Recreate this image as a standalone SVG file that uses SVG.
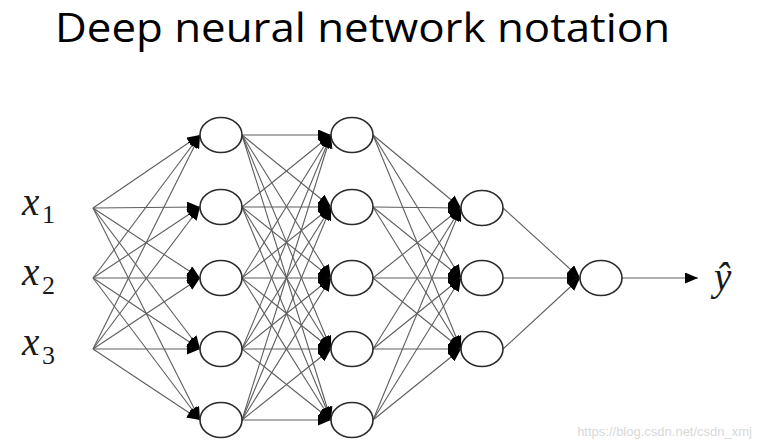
<svg xmlns="http://www.w3.org/2000/svg" width="760" height="448" viewBox="0 0 760 448">
<style>
.c{stroke:#5e5e5e;stroke-width:1.1;fill:none;marker-end:url(#ah)}
.n{fill:#fff;stroke:#2a2a2a;stroke-width:1.6}
.t{font-family:"Open Sans","Liberation Sans",sans-serif;font-size:40px;fill:#000}
.v{font-family:"Liberation Serif","DejaVu Serif",serif;font-style:italic;font-size:39px;fill:#1a1a1a}
.s{font-family:"Liberation Serif","DejaVu Serif",serif;font-size:26px;fill:#1a1a1a}
.w{font-family:"Liberation Sans",Arial,sans-serif;font-size:13px;fill:#d8d8d8}
</style>
<defs>
<marker id="ah" markerUnits="userSpaceOnUse" markerWidth="13" markerHeight="11" refX="13" refY="5.5" orient="auto" viewBox="0 0 13 11">
<path d="M0,0 L13,5.5 L0,11 z" fill="#000"/>
</marker>
</defs>
<rect width="760" height="448" fill="#fff"/>
<text class="t" x="55" y="42" textLength="615" lengthAdjust="spacingAndGlyphs">Deep neural network notation</text>
<g id="connectors">
<line class="c" x1="93" y1="208" x2="200" y2="135"/>
<line class="c" x1="93" y1="208" x2="200" y2="207"/>
<line class="c" x1="93" y1="208" x2="200" y2="278"/>
<line class="c" x1="93" y1="208" x2="200" y2="349"/>
<line class="c" x1="93" y1="208" x2="200" y2="420"/>
<line class="c" x1="93" y1="278" x2="200" y2="135"/>
<line class="c" x1="93" y1="278" x2="200" y2="207"/>
<line class="c" x1="93" y1="278" x2="200" y2="278"/>
<line class="c" x1="93" y1="278" x2="200" y2="349"/>
<line class="c" x1="93" y1="278" x2="200" y2="420"/>
<line class="c" x1="93" y1="349" x2="200" y2="135"/>
<line class="c" x1="93" y1="349" x2="200" y2="207"/>
<line class="c" x1="93" y1="349" x2="200" y2="278"/>
<line class="c" x1="93" y1="349" x2="200" y2="349"/>
<line class="c" x1="93" y1="349" x2="200" y2="420"/>
<line class="c" x1="242" y1="135" x2="331" y2="135"/>
<line class="c" x1="242" y1="135" x2="331" y2="207"/>
<line class="c" x1="242" y1="135" x2="331" y2="278"/>
<line class="c" x1="242" y1="135" x2="331" y2="349"/>
<line class="c" x1="242" y1="135" x2="331" y2="420"/>
<line class="c" x1="242" y1="207" x2="331" y2="135"/>
<line class="c" x1="242" y1="207" x2="331" y2="207"/>
<line class="c" x1="242" y1="207" x2="331" y2="278"/>
<line class="c" x1="242" y1="207" x2="331" y2="349"/>
<line class="c" x1="242" y1="207" x2="331" y2="420"/>
<line class="c" x1="242" y1="278" x2="331" y2="135"/>
<line class="c" x1="242" y1="278" x2="331" y2="207"/>
<line class="c" x1="242" y1="278" x2="331" y2="278"/>
<line class="c" x1="242" y1="278" x2="331" y2="349"/>
<line class="c" x1="242" y1="278" x2="331" y2="420"/>
<line class="c" x1="242" y1="349" x2="331" y2="135"/>
<line class="c" x1="242" y1="349" x2="331" y2="207"/>
<line class="c" x1="242" y1="349" x2="331" y2="278"/>
<line class="c" x1="242" y1="349" x2="331" y2="349"/>
<line class="c" x1="242" y1="349" x2="331" y2="420"/>
<line class="c" x1="242" y1="420" x2="331" y2="135"/>
<line class="c" x1="242" y1="420" x2="331" y2="207"/>
<line class="c" x1="242" y1="420" x2="331" y2="278"/>
<line class="c" x1="242" y1="420" x2="331" y2="349"/>
<line class="c" x1="242" y1="420" x2="331" y2="420"/>
<line class="c" x1="373" y1="135" x2="461" y2="208"/>
<line class="c" x1="373" y1="135" x2="461" y2="278"/>
<line class="c" x1="373" y1="135" x2="461" y2="349"/>
<line class="c" x1="373" y1="207" x2="461" y2="208"/>
<line class="c" x1="373" y1="207" x2="461" y2="278"/>
<line class="c" x1="373" y1="207" x2="461" y2="349"/>
<line class="c" x1="373" y1="278" x2="461" y2="208"/>
<line class="c" x1="373" y1="278" x2="461" y2="278"/>
<line class="c" x1="373" y1="278" x2="461" y2="349"/>
<line class="c" x1="373" y1="349" x2="461" y2="208"/>
<line class="c" x1="373" y1="349" x2="461" y2="278"/>
<line class="c" x1="373" y1="349" x2="461" y2="349"/>
<line class="c" x1="373" y1="420" x2="461" y2="208"/>
<line class="c" x1="373" y1="420" x2="461" y2="278"/>
<line class="c" x1="373" y1="420" x2="461" y2="349"/>
<line class="c" x1="503" y1="208" x2="580" y2="278"/>
<line class="c" x1="503" y1="278" x2="580" y2="278"/>
<line class="c" x1="503" y1="349" x2="580" y2="278"/>
<line class="c" x1="622" y1="278" x2="698" y2="278"/>
</g>
<g id="x1"><text class="v" x="22" y="215">x</text><text class="s" x="42" y="223">1</text></g>
<g id="x2"><text class="v" x="22" y="285">x</text><text class="s" x="42" y="294">2</text></g>
<g id="x3"><text class="v" x="22" y="355">x</text><text class="s" x="42" y="364">3</text></g>
<g id="h1_1"><ellipse class="n" cx="221" cy="135" rx="21" ry="17.5"/></g>
<g id="h1_2"><ellipse class="n" cx="221" cy="207" rx="21" ry="17.5"/></g>
<g id="h1_3"><ellipse class="n" cx="221" cy="278" rx="21" ry="17.5"/></g>
<g id="h1_4"><ellipse class="n" cx="221" cy="349" rx="21" ry="17.5"/></g>
<g id="h1_5"><ellipse class="n" cx="221" cy="420" rx="21" ry="17.5"/></g>
<g id="h2_1"><ellipse class="n" cx="352" cy="135" rx="21" ry="17.5"/></g>
<g id="h2_2"><ellipse class="n" cx="352" cy="207" rx="21" ry="17.5"/></g>
<g id="h2_3"><ellipse class="n" cx="352" cy="278" rx="21" ry="17.5"/></g>
<g id="h2_4"><ellipse class="n" cx="352" cy="349" rx="21" ry="17.5"/></g>
<g id="h2_5"><ellipse class="n" cx="352" cy="420" rx="21" ry="17.5"/></g>
<g id="h3_1"><ellipse class="n" cx="482" cy="208" rx="21" ry="17.5"/></g>
<g id="h3_2"><ellipse class="n" cx="482" cy="278" rx="21" ry="17.5"/></g>
<g id="h3_3"><ellipse class="n" cx="482" cy="349" rx="21" ry="17.5"/></g>
<g id="out"><ellipse class="n" cx="601" cy="278" rx="21" ry="17.5"/></g>
<g id="yhat"><text class="v" x="714" y="290">ŷ</text></g>
<text class="w" x="752" y="436" text-anchor="end">https://blog.csdn.net/csdn_xmj</text>
</svg>
